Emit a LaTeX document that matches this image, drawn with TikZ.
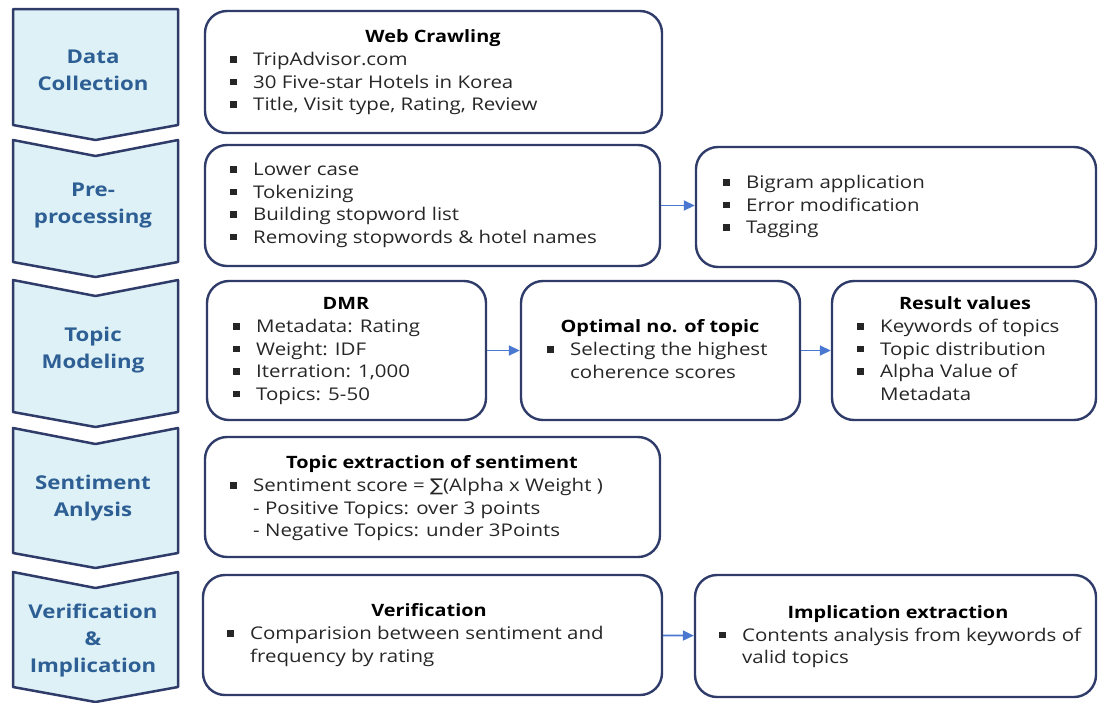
\documentclass[tikz,border=0pt]{standalone}
\usepackage{fontspec}
\setmainfont{Open Sans}[FakeStretch=1.17]
\newfontfamily\symfont{DejaVu Sans}[FakeStretch=1.1]
\usetikzlibrary{arrows.meta}

\definecolor{navy}{HTML}{2F3B69}
\definecolor{stagefill}{HTML}{DEF1F6}
\definecolor{stagetext}{HTML}{2E5F94}
\definecolor{flowblue}{HTML}{4A78D0}
\definecolor{bodytext}{HTML}{262626}

% bullet square, the indent of a continued line, a list set from its first baseline
\newcommand{\sq}{\makebox[23pt][l]{\raisebox{3pt}{\rule{6.5pt}{6.5pt}}}}
\newcommand{\cont}{\hspace*{23pt}}
\newcommand{\lines}[1]{\begin{tabular}[t]{@{}l@{}}#1\end{tabular}}

% one chevron of the process column: top y, bottom y
\newcommand{\stage}[2]{%
    \draw[stagebox] (13,#1) -- (95.5,#1+16) -- (178,#1) -- (178,#2)
        -- (95.5,#2+15) -- (13,#2) -- cycle;
}

\tikzset{
    stagebox/.style={line width=2.5pt,draw=navy,fill=stagefill,line join=round},
    stagelabel/.style={align=center,text=stagetext,
        font=\fontsize{19}{27}\selectfont\bfseries},
    stepbox/.style={draw=navy,line width=2.4pt,rounded corners=22pt,
        inner sep=0pt},
    heading/.style={anchor=base,inner sep=0pt,text=black,
        font=\fontsize{17}{22.5}\selectfont\bfseries},
    items/.style={anchor=base west,inner sep=0pt,text=bodytext,
        font=\fontsize{17.5}{22.5}\selectfont},
    flow/.style={draw=flowblue,line width=1.8pt,-{Triangle[length=11pt,width=10pt]}}
}

\begin{document}
\begin{tikzpicture}[x=1pt,y=-1pt]
\useasboundingbox (0,0) rectangle (1099,702);

% left column
\draw[stagebox] (13,9) -- (178,9) -- (178,125) -- (95.5,140) -- (13,125) -- cycle;
\stage{140}{262}
\stage{280}{412}
\stage{428}{553}
\stage{572}{687}

\node[stagelabel] (s1) at (93,70) {Data\\Collection};
\node[stagelabel] (s2) at (93,205) {Pre-\\processing};
\node[stagelabel] (s3) at (93,350) {Topic\\Modeling};
\node[stagelabel] (s4) at (93,498) {Sentiment\\Anlysis};
\node[stagelabel] (s5) at (93,640) {Verification\\\&\\Implication};

% boxes
\node[stepbox,minimum width=457pt,minimum height=122pt] (crawl) at (433.5,72) {};
\node[stepbox,minimum width=455pt,minimum height=121pt] (prep) at (432.5,205.5) {};
\node[stepbox,minimum width=400pt,minimum height=120pt] (clean) at (896,207) {};
\node[stepbox,minimum width=279pt,minimum height=139pt] (dmr) at (346.5,350.5) {};
\node[stepbox,minimum width=279pt,minimum height=139pt] (optk) at (660.5,350.5) {};
\node[stepbox,minimum width=264pt,minimum height=139pt] (result) at (964,350.5) {};
\node[stepbox,minimum width=455pt,minimum height=120pt] (senti) at (432.5,497) {};
\node[stepbox,minimum width=459pt,minimum height=120pt] (verif) at (432.5,635) {};
\node[stepbox,minimum width=401pt,minimum height=122pt] (impl) at (895.5,636) {};

% box texts
\node[heading] (crawlh) at (433,42.5) {Web Crawling};
\node[items] (crawlt) at (230,65.5) {\lines{\sq TripAdvisor.com\\
    \sq 30 Five-star Hotels in Korea\\
    \sq Title, Visit type, Rating, Review}};

\node[items] (prept) at (230,175.5) {\lines{\sq Lower case\\
    \sq Tokenizing\\
    \sq Building stopword list\\
    \sq Removing stopwords \& hotel names}};

\node[items] (cleant) at (723,188.5) {\lines{\sq Bigram application\\
    \sq Error modification\\
    \sq Tagging}};

\node[heading] (dmrh) at (346,309.5) {DMR};
\node[items] (dmrt) at (233,332.5) {\lines{\sq Metadata: Rating\\
    \sq Weight: IDF\\
    \sq Iterration: 1,000\\
    \sq Topics: 5-50}};

\node[heading] (optkh) at (660,332.5) {Optimal no. of topic};
\node[items] (optkt) at (547,355.5) {\lines{\sq Selecting the highest\\
    \cont coherence scores}};

\node[heading] (resulth) at (965,309.5) {Result values};
\node[items] (resultt) at (857,332.5) {\lines{\sq Keywords of topics\\
    \sq Topic distribution\\
    \sq Alpha Value of\\
    \cont Metadata}};

\node[heading] (sentih) at (432,468.5) {Topic extraction of sentiment};
\node[items] (sentit) at (230,491.5) {\lines{\sq Sentiment score = {\symfont ∑}(Alpha x Weight )\\
    \cont - Positive Topics: over 3 points\\
    \cont - Negative Topics: under 3Points}};

\node[heading] (verifh) at (429,616.5) {Verification};
\node[items] (verift) at (227,639.5) {\lines{\sq Comparision between sentiment and\\
    \cont frequency by rating}};

\node[heading] (implh) at (898,618) {Implication extraction};
\node[items] (implt) at (719,641) {\lines{\sq Contents analysis from keywords of\\
    \cont valid topics}};

% arrows between boxes
\draw[flow] (prep.east) -- (prep.east -| clean.west);
\draw[flow] (dmr) -- (optk);
\draw[flow] (optk) -- (result);
\draw[flow] (verif) -- (impl);

\end{tikzpicture}
\end{document}
